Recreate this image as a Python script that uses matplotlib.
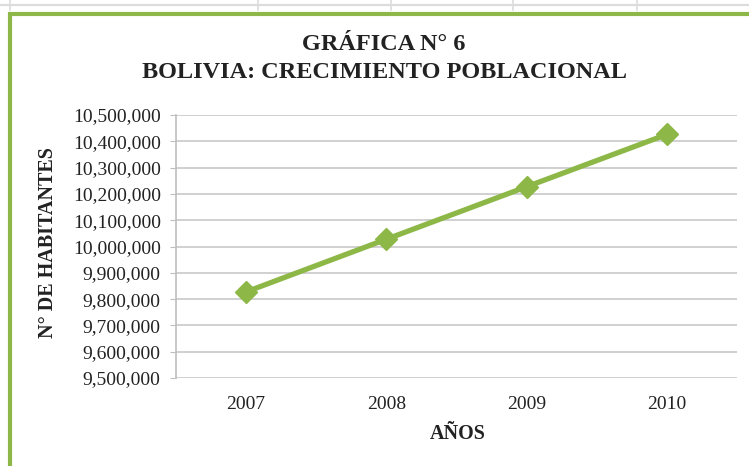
import matplotlib
matplotlib.use("Agg")
import matplotlib.pyplot as plt
from matplotlib.ticker import FuncFormatter
from matplotlib.lines import Line2D
from matplotlib.patches import Rectangle

years = ["2007", "2008", "2009", "2010"]
poblacion = [9827522, 10027643, 10227299, 10426154]
y_ticks = list(range(9500000, 10500001, 100000))

green = "#8DB848"
W, H = 749, 466

plt.rcParams["font.family"] = ["Liberation Serif", "DejaVu Serif"]

fig = plt.figure(figsize=(W / 100, H / 100), dpi=100)

def fx(px):
    return px / W

def fy(py):
    return 1 - py / H

# spreadsheet grid visible above the chart
fig.add_artist(Line2D([0, 1], [fy(5), fy(5)], color="#DCDCDC", lw=1.6))
for vx in [10, 258, 391, 513, 637]:
    fig.add_artist(Line2D([fx(vx), fx(vx)], [fy(0), fy(10)], color="#DCDCDC", lw=1.2))

# green chart border
fig.add_artist(Rectangle((fx(10), fy(480)), fx(800), fy(13.5) - fy(480),
                         fill=False, edgecolor=green, lw=3))

ax = fig.add_axes([fx(176), fy(378), fx(737) - fx(176), fy(115) - fy(378)])
x = list(range(len(years)))
ax.plot(x, poblacion, color=green, lw=3.8, marker="D", markersize=11,
        markerfacecolor=green, markeredgecolor=green, zorder=3)

ax.set_xlim(-0.5, len(years) - 0.5)
ax.set_ylim(y_ticks[0], y_ticks[-1])
ax.set_xticks(x)
ax.set_xticklabels(years)
ax.set_yticks(y_ticks)
ax.yaxis.set_major_formatter(FuncFormatter(lambda v, p: f"{int(v):,}"))
ax.grid(axis="y", color="#C8C8C8", lw=1.2)
ax.set_axisbelow(True)

for s in ["top", "right", "bottom"]:
    ax.spines[s].set_visible(False)
ax.spines["left"].set_color("#BFBFBF")
ax.spines["left"].set_linewidth(1.2)

ax.tick_params(axis="y", labelsize=14, length=4, color="#BFBFBF", pad=7, labelcolor="#222222")
ax.tick_params(axis="x", labelsize=14, length=0, pad=13, labelcolor="#222222")

fig.text(fx(384), fy(45), "GRÁFICA N° 6", ha="center", va="center",
         fontsize=17.5, fontweight="bold", color="#222222")
fig.text(fx(385), fy(73), "BOLIVIA: CRECIMIENTO POBLACIONAL", ha="center", va="center",
         fontsize=17.5, fontweight="bold", color="#222222")
fig.text(fx(48), fy(243), "N° DE HABITANTES", ha="center", va="center", rotation=90,
         fontsize=14.5, fontweight="bold", color="#222222")
fig.text(fx(458), fy(434), "AÑOS", ha="center", va="center",
         fontsize=14.5, fontweight="bold", color="#222222")

fig.savefig("out.png", dpi=100)
